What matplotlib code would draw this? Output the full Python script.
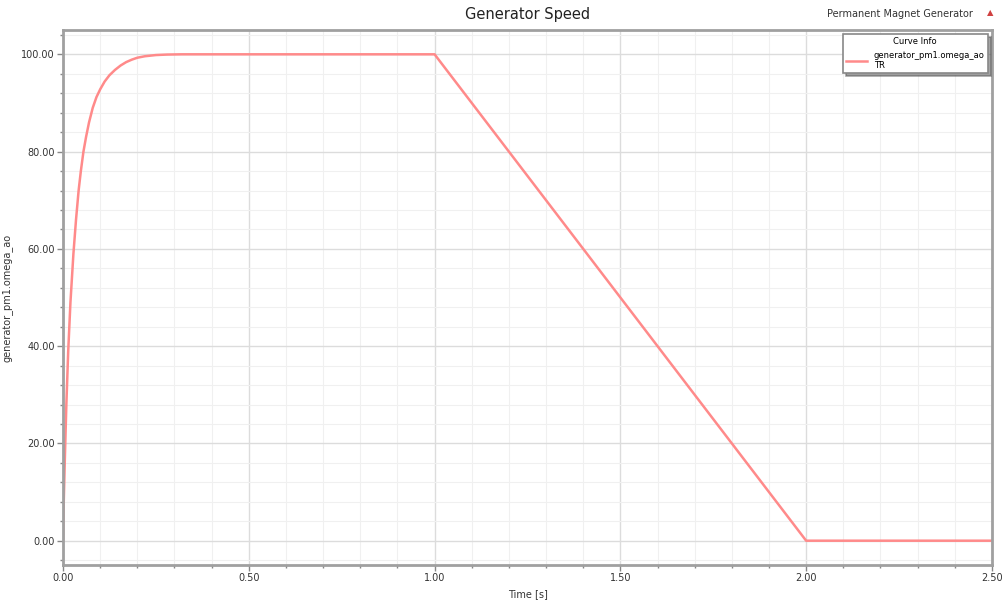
import numpy as np
import matplotlib.pyplot as plt
from matplotlib.ticker import MultipleLocator, FormatStrFormatter

# generator speed trace
time_s = [0.0, 0.002, 0.005, 0.009, 0.014, 0.02, 0.028, 0.035, 0.042, 0.048, 0.055,
          0.062, 0.07, 0.08, 0.09, 0.1, 0.112, 0.125, 0.14, 0.155, 0.17, 0.185,
          0.2, 0.22, 0.25, 0.28, 0.32, 1.0, 2.0, 2.5]
omega = [0.0, 8.0, 17.0, 28.0, 39.0, 49.0, 59.0, 66.0, 72.0, 76.0, 80.0,
         83.0, 86.0, 89.0, 91.2, 92.8, 94.4, 95.7, 96.8, 97.7, 98.4, 98.9,
         99.3, 99.6, 99.85, 99.95, 100.0, 100.0, 0.0, 0.0]

x_ticks = [0.0, 0.5, 1.0, 1.5, 2.0, 2.5]
y_ticks = [0.0, 20.0, 40.0, 60.0, 80.0, 100.0]

fig = plt.figure(figsize=(10.05, 6), dpi=100)
ax = fig.add_axes([0.0627, 0.0583, 0.9243, 0.8917])

ax.plot(time_s, omega, color='#ff8a8a', lw=1.8, label='generator_pm1.omega_ao\nTR')

ax.set_xlim(0, 2.5)
ax.set_ylim(-5, 105)
ax.set_xticks(x_ticks)
ax.set_yticks(y_ticks)
ax.xaxis.set_minor_locator(MultipleLocator(0.1))
ax.yaxis.set_minor_locator(MultipleLocator(4))
ax.xaxis.set_major_formatter(FormatStrFormatter('%.2f'))
ax.yaxis.set_major_formatter(FormatStrFormatter('%.2f'))

ax.grid(which='minor', color='#f0f0f0', lw=0.8)
ax.grid(which='major', color='#dcdcdc', lw=1.0)
ax.set_axisbelow(True)

for s in ax.spines.values():
    s.set_color('#a0a0a0')
    s.set_linewidth(2.0)
ax.tick_params(which='major', length=4, width=1, color='#888888', labelsize=7, labelcolor='#333333', pad=2)
ax.tick_params(which='minor', length=2, width=1, color='#888888')

ax.set_title('Generator Speed', fontsize=10.5, color='#222222', pad=8)
ax.set_xlabel('Time [s]', fontsize=7, color='#333333', labelpad=4)
ax.set_ylabel('generator_pm1.omega_ao', fontsize=7, color='#333333', labelpad=6)

fig.text(0.968, 0.977, 'Permanent Magnet Generator', fontsize=7, color='#333333', ha='right', va='center')
fig.text(0.985, 0.979, '\u25b2', fontsize=6, color='#d04040', ha='center', va='center')

leg = ax.legend(loc='upper right', title='Curve Info', fontsize=6, title_fontsize=6,
                fancybox=False, shadow=True, edgecolor='#888888', framealpha=1,
                handlelength=2.5, borderpad=0.4)
leg.get_frame().set_linewidth(1.2)

fig.savefig('out.png', dpi=100)
